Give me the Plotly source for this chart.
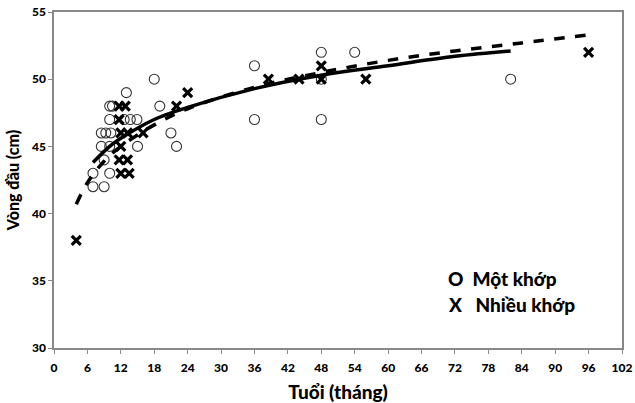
import plotly.graph_objects as go

# Data
mot_x = [7, 9, 7, 10, 9, 8.5, 10, 15, 22, 8.5, 9.3, 10.2, 21, 10, 12.6, 13.7, 14.9, 10, 10.5, 19, 13, 18, 36, 36, 48, 48, 48, 54, 82]
mot_y = [42, 42, 43, 43, 44, 45, 45, 45, 45, 46, 46, 46, 46, 47, 47, 47, 47, 48, 48, 48, 49, 50, 51, 47, 52, 50, 47, 52, 50]

nhieu_x = [4, 12, 13.5, 11.7, 13.2, 12, 12, 13.2, 16, 11.7, 11.7, 12.8, 22, 24, 38.5, 44, 48, 48, 56, 96]
nhieu_y = [38, 43, 43, 44, 44, 45, 46, 46, 46, 47, 48, 48, 48, 49, 50, 50, 51, 50, 50, 52]

# Trend lines
solid_x = [7, 10, 12, 18, 24, 36, 48, 60, 72, 82]
solid_y = [43.8, 45.0, 45.6, 47.0, 47.9, 49.3, 50.3, 51.0, 51.7, 52.1]
dash_x = [4, 6, 9, 12, 18, 24, 36, 48, 60, 72, 84, 96]
dash_y = [40.7, 42.3, 43.9, 45.0, 46.6, 47.8, 49.4, 50.5, 51.4, 52.1, 52.7, 53.3]

x_ticks = list(range(0, 103, 6))
y_ticks = [30, 35, 40, 45, 50, 55]

legend_lines = ["O  Một khớp", "X   Nhiều khớp"]

FONT = "Lato"
W = 900

fig = go.Figure()
fig.add_trace(go.Scatter(x=mot_x, y=mot_y, mode="markers", name="Một khớp",
                         marker=dict(symbol="circle-open", size=10, color="#333333",
                                     line=dict(width=1.1, color="#333333"))))
fig.add_trace(go.Scatter(x=nhieu_x, y=nhieu_y, mode="markers", name="Nhiều khớp",
                         marker=dict(symbol="x-thin", size=9, color="black",
                                     line=dict(width=3.2, color="black"))))
fig.add_trace(go.Scatter(x=solid_x, y=solid_y, mode="lines", line_shape="spline",
                         line=dict(color="black", width=3.5), showlegend=False))
fig.add_trace(go.Scatter(x=dash_x, y=dash_y, mode="lines", line_shape="spline",
                         line=dict(color="black", width=3.5, dash="dash"), showlegend=False))

fig.update_layout(
    width=635, height=403,
    margin=dict(l=54, r=13, t=12, b=55),
    paper_bgcolor="white", plot_bgcolor="white",
    showlegend=False,
    font=dict(family=FONT, color="black", size=11),
    xaxis=dict(range=[0, 102], tickvals=x_ticks, showgrid=False, zeroline=False,
               automargin=False,
               showline=True, linecolor="#888888", linewidth=1.5, mirror=True,
               ticks="outside", ticklen=4, tickcolor="#888888", ticklabelstandoff=4,
               tickfont=dict(family=FONT, size=12, color="black", weight=W),
               title=dict(text="Tuổi (tháng)", standoff=14,
                          font=dict(family=FONT, size=19, color="black", weight=W))),
    yaxis=dict(range=[30, 55], tickvals=y_ticks, showgrid=False, zeroline=False,
               automargin=False,
               showline=True, linecolor="#888888", linewidth=1.5, mirror=True,
               ticks="outside", ticklen=4, tickcolor="#888888",
               tickfont=dict(family=FONT, size=12, color="black", weight=W),
               title=dict(text="Vòng đầu (cm)", standoff=8,
                          font=dict(family=FONT, size=16, color="black", weight=W))),
)

for txt, yy in zip(legend_lines, [0.208, 0.128]):
    fig.add_annotation(xref="paper", yref="paper", x=0.69, y=yy, xanchor="left", yanchor="middle",
                       showarrow=False, align="left", text=txt,
                       font=dict(family=FONT, size=19, color="black", weight=W))

fig.write_html("out.html")
